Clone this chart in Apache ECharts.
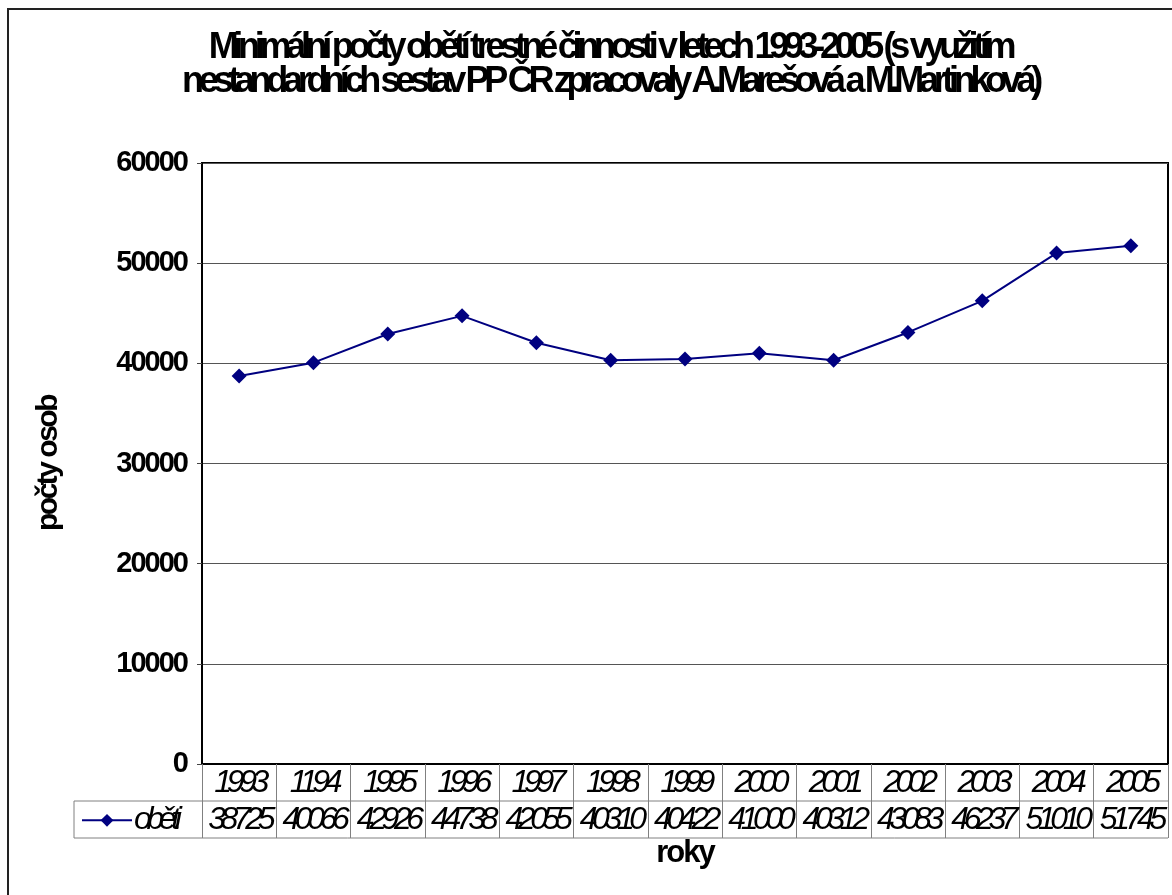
<!DOCTYPE html>
<html>
<head>
<meta charset="utf-8">
<script src="https://cdn.jsdelivr.net/npm/echarts@6/dist/echarts.min.js"></script>
<style>
html,body{margin:0;padding:0;background:#fff;}
#chart{width:1172px;height:895px;}
</style>
</head>
<body>
<div id="chart"></div>
<script>
const titleLines = ['Minimální počty obětí trestné činnosti v letech 1993-2005 (s využitím', 'nestandardních sestav PP ČR zpracovaly A.Marešová a M.Martinková)'];
const years = ['1993','1194','1995','1996','1997','1998','1999','2000','2001','2002','2003','2004','2005'];
const victims = [38725, 40066, 42926, 44738, 42055, 40310, 40422, 41000, 40312, 43083, 46237, 51010, 51745];
const seriesName = 'oběti';
const yTicks = [0, 10000, 20000, 30000, 40000, 50000, 60000];
const yName = 'počty osob';
const xName = 'roky';

// condensed text rendering: letter spacing chosen per font size
const spacingBySize = {36: -5.3, 29: -2, 30: -2.5, 31: -2, 32: -5.4};
(function () {
  const P = CanvasRenderingContext2D.prototype;
  const fill = P.fillText, stroke = P.strokeText, measure = P.measureText;
  function apply(ctx) {
    const m = /(\d+(?:\.\d+)?)px/.exec(ctx.font);
    const s = m ? Math.round(+m[1]) : 0;
    ctx.letterSpacing = (spacingBySize[s] || 0) + 'px';
  }
  P.fillText = function () { apply(this); return fill.apply(this, arguments); };
  P.strokeText = function () { apply(this); return stroke.apply(this, arguments); };
  P.measureText = function () { apply(this); return measure.apply(this, arguments); };
})();

const font = 'Liberation Sans, Arial, sans-serif';
const chart = echarts.init(document.getElementById('chart'), null, {renderer: 'canvas'});
const option = {
  backgroundColor: '#fff',
  animation: false,
  title: {
    text: titleLines.join('\n'),
    left: 605, top: 26, textAlign: 'center',
    textStyle: {fontFamily: font, fontSize: 36, fontWeight: 'bold', color: '#000', lineHeight: 34}
  },
  legend: {
    left: 76, top: 802,
    itemWidth: 50, itemHeight: 16, itemGap: 0,
    data: [seriesName],
    textStyle: {fontFamily: font, fontSize: 32, fontStyle: 'italic', color: '#000', padding: [0,0,0,-3]}
  },
  grid: {left: 202, right: 4, top: 163, bottom: 131, show: true, borderColor: '#000', borderWidth: 2, containLabel: false},
  xAxis: {
    type: 'category', data: years, boundaryGap: true,
    name: xName, nameLocation: 'middle', nameGap: 69,
    nameTextStyle: {fontFamily: font, fontSize: 31, fontWeight: 'bold', color: '#000'},
    axisLine: {lineStyle: {color: '#000', width: 2}},
    axisTick: {show: true, length: 74, interval: 0, lineStyle: {color: '#808080', width: 1}},
    axisLabel: {
      interval: 0, margin: 1,
      formatter: function (v, i) { return '{a|' + v + '}\n{b|' + victims[i] + '}'; },
      rich: {
        a: {fontFamily: font, fontSize: 32, fontStyle: 'italic', color: '#000', lineHeight: 37},
        b: {fontFamily: font, fontSize: 32, fontStyle: 'italic', color: '#000', lineHeight: 37}
      }
    }
  },
  yAxis: {
    type: 'value', min: yTicks[0], max: yTicks[yTicks.length - 1], interval: yTicks[1] - yTicks[0],
    name: yName, nameLocation: 'middle', nameGap: 140, nameRotate: 90,
    nameTextStyle: {fontFamily: font, fontSize: 30, fontWeight: 'bold', color: '#000'},
    axisLine: {show: true, lineStyle: {color: '#000', width: 2}},
    axisTick: {show: true, length: 5, lineStyle: {color: '#444', width: 1}},
    axisLabel: {margin: 15, fontFamily: font, fontSize: 29, fontWeight: 'bold', color: '#000',
      formatter: function (v) { return String(v); }},
    splitLine: {show: true, lineStyle: {color: '#555', width: 1}}
  },
  series: [{
    name: seriesName, type: 'line', data: victims,
    symbol: 'diamond', symbolSize: 15,
    lineStyle: {color: '#000080', width: 2},
    itemStyle: {color: '#000080'}
  }],
  graphic: [
    {type: 'rect', shape: {x: 8, y: 9, width: 1300, height: 1000}, style: {fill: 'none', stroke: '#222', lineWidth: 2}, silent: true},
    {type: 'line', shape: {x1: 74, y1: 801, x2: 1168, y2: 801}, style: {stroke: '#808080', lineWidth: 1}, silent: true},
    {type: 'line', shape: {x1: 74, y1: 838, x2: 1168, y2: 838}, style: {stroke: '#808080', lineWidth: 1}, silent: true},
    {type: 'line', shape: {x1: 74, y1: 801, x2: 74, y2: 838}, style: {stroke: '#808080', lineWidth: 1}, silent: true}
  ]
};
chart.setOption(option);
</script>
</body>
</html>
